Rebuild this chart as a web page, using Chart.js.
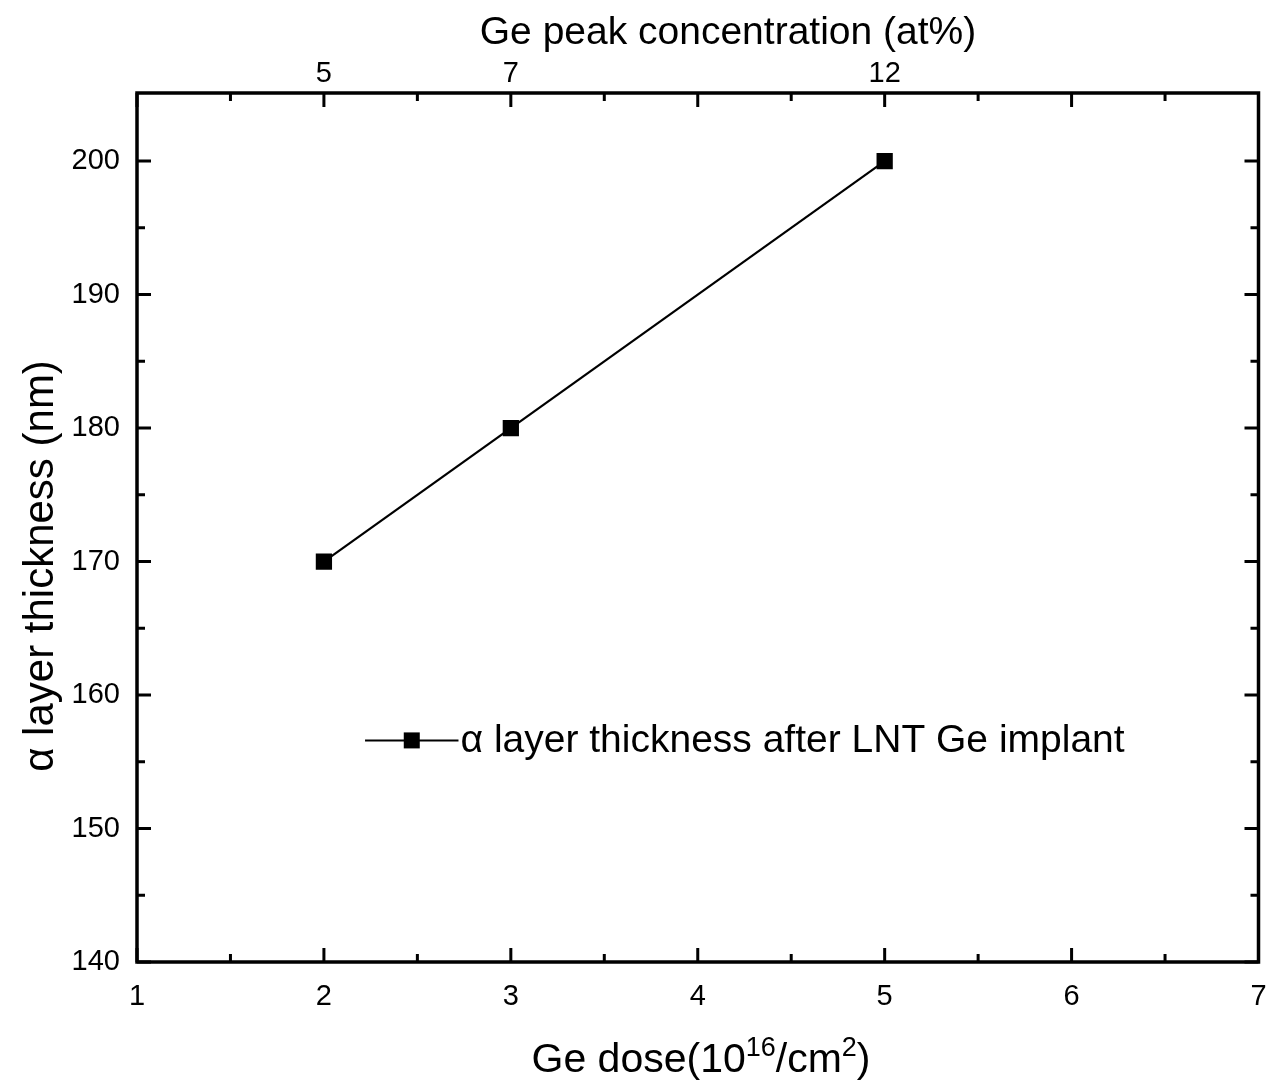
<!DOCTYPE html>
<html>
<head>
<meta charset="utf-8">
<script src="https://cdn.jsdelivr.net/npm/chart.js@4.4.1/dist/chart.umd.min.js"></script>
<style>
  html, body { margin: 0; padding: 0; background: #ffffff; }
  canvas { display: block; }
</style>
</head>
<body>
<canvas id="c" width="1270" height="1084"></canvas>
<script>
// ---- data ----
const doseValues = [2, 3, 5];                 // Ge dose (10^16/cm^2)
const thicknessValues = [170, 180, 200];      // α layer thickness (nm)
const xTickValues = [1, 2, 3, 4, 5, 6, 7];
const xMinorValues = [1.5, 2.5, 3.5, 4.5, 5.5, 6.5];
const yTickValues = [140, 150, 160, 170, 180, 190, 200];
const yMinorValues = [145, 155, 165, 175, 185, 195];
const topTickPositions = [2, 3, 5];           // dose positions of top-axis labels
const topTickLabels = ['5', '7', '12'];       // Ge peak concentration (at%)
const seriesLabel = 'α layer thickness after LNT Ge implant';
const xTitleParts = [['Ge dose(10', false], ['16', true], ['/cm', false], ['2', true], [')', false]];
const yTitle = 'α layer thickness (nm)';
const topTitle = 'Ge peak concentration (at%)';

const FONT = '"Liberation Sans", Arial, Helvetica, sans-serif';

const framePlugin = {
  id: 'framePlugin',
  afterDatasetsDraw(chart) {
    const ctx = chart.ctx;
    const a = chart.chartArea;
    const xs = chart.scales.x, ys = chart.scales.y;
    ctx.save();
    ctx.strokeStyle = '#000';
    ctx.lineWidth = 3.5;
    ctx.lineCap = 'butt';
    ctx.strokeRect(a.left, a.top, a.right - a.left, a.bottom - a.top);
    const MAJ = 14, MIN = 8;
    ctx.lineWidth = 3;
    ctx.beginPath();
    const vx = (v, len) => {
      const px = xs.getPixelForValue(v);
      ctx.moveTo(px, a.bottom); ctx.lineTo(px, a.bottom - len);
      ctx.moveTo(px, a.top); ctx.lineTo(px, a.top + len);
    };
    const vy = (v, len) => {
      const py = ys.getPixelForValue(v);
      ctx.moveTo(a.left, py); ctx.lineTo(a.left + len, py);
      ctx.moveTo(a.right, py); ctx.lineTo(a.right - len, py);
    };
    xTickValues.forEach(v => vx(v, MAJ));
    xMinorValues.forEach(v => vx(v, MIN));
    yTickValues.forEach(v => vy(v, MAJ));
    yMinorValues.forEach(v => vy(v, MIN));
    ctx.stroke();

    // legend (inside plot)
    const lx0 = xs.getPixelForValue(2.22), lx1 = xs.getPixelForValue(2.72);
    const ly = ys.getPixelForValue(156.6);
    const mx = (lx0 + lx1) / 2;
    ctx.lineWidth = 2;
    ctx.beginPath(); ctx.moveTo(lx0, ly); ctx.lineTo(lx1, ly); ctx.stroke();
    ctx.fillStyle = '#000';
    ctx.fillRect(mx - 8, ly - 8, 16, 16);
    ctx.font = '39px ' + FONT;
    ctx.textAlign = 'left';
    ctx.textBaseline = 'middle';
    ctx.fillText(seriesLabel, lx1 + 2, ly + 1);

    // titles
    ctx.font = '39px ' + FONT;
    ctx.textAlign = 'center';
    ctx.textBaseline = 'alphabetic';
    ctx.fillText(topTitle, 728, 44);

    ctx.save();
    ctx.font = '42px ' + FONT;
    ctx.translate(53, 566);
    ctx.rotate(-Math.PI / 2);
    ctx.fillText(yTitle, 0, 0);
    ctx.restore();

    // x title with superscripts
    const base = 41, sup = 27;
    let total = 0;
    xTitleParts.forEach(([t, s]) => { ctx.font = (s ? sup : base) + 'px ' + FONT; total += ctx.measureText(t).width; });
    let cx = 701 - total / 2;
    const by = 1072;
    ctx.textAlign = 'left';
    xTitleParts.forEach(([t, s]) => {
      ctx.font = (s ? sup : base) + 'px ' + FONT;
      ctx.fillText(t, cx, s ? by - 16 : by);
      cx += ctx.measureText(t).width;
    });
    ctx.restore();
  }
};

new Chart(document.getElementById('c'), {
  type: 'scatter',
  data: {
    datasets: [{
      label: seriesLabel,
      data: doseValues.map((d, i) => ({ x: d, y: thicknessValues[i] })),
      showLine: true,
      borderColor: '#000',
      backgroundColor: '#000',
      borderWidth: 2.2,
      pointStyle: 'rect',
      pointRadius: 11.5,
      pointBorderWidth: 0,
      pointHoverRadius: 11.5,
      tension: 0
    }]
  },
  options: {
    responsive: false,
    animation: false,
    devicePixelRatio: 1,
    layout: { padding: 0 },
    plugins: { legend: { display: false }, tooltip: { enabled: false } },
    scales: {
      x: {
        type: 'linear', position: 'bottom', min: 1, max: 7,
        grid: { display: false }, border: { display: false },
        afterBuildTicks: s => { s.ticks = xTickValues.map(v => ({ value: v })); },
        afterFit: s => { s.height = 122; s.paddingLeft = 0; s.paddingRight = 0; },
        ticks: { font: { size: 29, family: FONT }, color: '#000', padding: 10, maxRotation: 0, autoSkip: false }
      },
      x2: {
        type: 'linear', position: 'top', min: 1, max: 7,
        grid: { display: false }, border: { display: false },
        afterBuildTicks: s => { s.ticks = topTickPositions.map(v => ({ value: v })); },
        afterFit: s => { s.height = 93; s.paddingLeft = 0; s.paddingRight = 0; },
        ticks: {
          font: { size: 29, family: FONT }, color: '#000', padding: -6, maxRotation: 0, autoSkip: false,
          callback: v => { const i = topTickPositions.indexOf(v); return i >= 0 ? topTickLabels[i] : ''; }
        }
      },
      y: {
        type: 'linear', position: 'left', min: 140, max: 205.1,
        grid: { display: false }, border: { display: false },
        afterBuildTicks: s => { s.ticks = yTickValues.map(v => ({ value: v })); },
        afterFit: s => { s.width = 137; s.paddingTop = 0; s.paddingBottom = 0; },
        ticks: { font: { size: 29, family: FONT }, color: '#000', padding: 9, autoSkip: false }
      },
      y2: {
        type: 'linear', position: 'right', min: 140, max: 205.1,
        grid: { display: false }, border: { display: false },
        afterFit: s => { s.width = 11; },
        ticks: { display: false }
      }
    }
  },
  plugins: [framePlugin]
});
</script>
</body>
</html>
